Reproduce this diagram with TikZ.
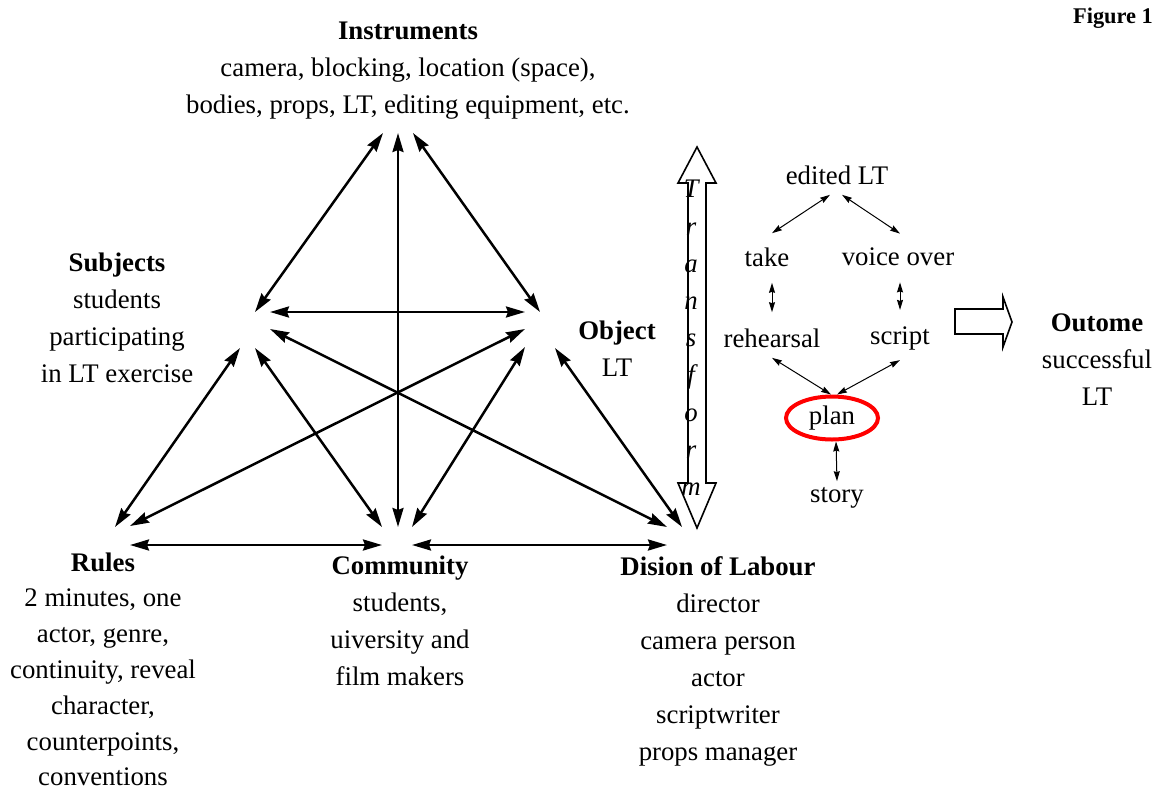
\documentclass[tikz,border=0pt]{standalone}
\usepackage{fontspec}
\setmainfont{Liberation Serif}
\usetikzlibrary{arrows.meta,shapes.geometric}

\begin{document}
\begin{tikzpicture}[x=0.5pt,y=-0.5pt,
  every node/.style={font=\fontsize{13.4}{18.5}\selectfont, align=center, inner sep=0pt},
  block/.style={anchor=north},
  link/.style={black, line width=1.25pt, >={Stealth[length=9.5pt,width=5.5pt,inset=1pt]}, <->},
  flow/.style={black, line width=0.5pt, >={Stealth[length=5pt,width=3pt,inset=0.5pt]}, <->},
  hollow/.style={black, line width=0.8pt, line join=miter, fill=white}]
\useasboundingbox (0,0) rectangle (1161,793);

\node[font=\fontsize{11.2}{13}\selectfont\bfseries] (fig) at (1113,18) {Figure 1};

\node[block] (instruments) at (408,22) {\textbf{Instruments}\\camera, blocking, location (space),\\bodies, props, LT, editing equipment, etc.};
\node[block] (subjects) at (117,252) {\textbf{Subjects}\\students\\participating\\in LT exercise};
\node[block] (object) at (617,320) {\textbf{Object}\\LT};
\node[block, font=\fontsize{13.4}{17.9}\selectfont] (rules) at (103,552) {\textbf{Rules}\\2 minutes, one\\actor, genre,\\continuity, reveal\\character,\\counterpoints,\\conventions};
\node[block] (community) at (400,555) {\textbf{Community}\\students,\\uiversity and\\film makers};
\node[block] (labour) at (718,556) {\textbf{Dision of Labour}\\director\\camera person\\actor\\scriptwriter\\props manager};

\coordinate (instr) at (398,133);
\coordinate (subj) at (255,330);
\coordinate (obj) at (540,330);
\coordinate (rul) at (122,536);
\coordinate (comm) at (397,536);
\coordinate (lab) at (674,536);

\draw[link] ([shift={(-15,0)}]instr) -- ([shift={(0,-18)}]subj);
\draw[link] (instr) -- ([shift={(1,-9)}]comm);
\draw[link] ([shift={(15,0)}]instr) -- ([shift={(0,-18)}]obj);
\draw[link] ([shift={(15,-18)}]subj) -- ([shift={(-15,-18)}]obj);
\draw[link] ([shift={(-15,18)}]subj) -- ([shift={(-7,-9)}]rul);
\draw[link] ([shift={(0,18)}]subj) -- ([shift={(-15,-9)}]comm);
\draw[link] ([shift={(15,-1)}]subj) -- ([shift={(-7,-9)}]lab);
\draw[link] ([shift={(-15,-1)}]obj) -- ([shift={(8,-10)}]rul);
\draw[link] ([shift={(-15,17)}]obj) -- ([shift={(15,-9)}]comm);
\draw[link] ([shift={(15,18)}]obj) -- ([shift={(8,-9)}]lab);
\draw[link] ([shift={(8,9)}]rul) -- ([shift={(-15,9)}]comm);
\draw[link] ([shift={(15,9)}]comm) -- ([shift={(-7,9)}]lab);

\draw[hollow] (697,147) -- (716,183) -- (706,183) -- (706,483) -- (716,483) -- (697,528)
  -- (678,483) -- (688,483) -- (688,183) -- (678,183) -- cycle;
\node[anchor=north, font=\fontsize{13.4}{18.6}\selectfont\itshape] (transform) at (691,180) {T\\r\\a\\n\\s\\f\\o\\r\\m};

\node (edited) at (837,175) {edited LT};
\node (take) at (767,257) {take};
\node (voice) at (898,257) {voice over};
\node (rehearsal) at (772,338) {rehearsal};
\node (script) at (900,338) {script};
\node[ellipse, draw=red, line width=2pt, minimum width=46pt, minimum height=21.5pt] (plan) at (832,418) {plan};
\node (story) at (837,498) {story};

\draw[flow] ([xshift=-3.5pt,yshift=-5pt]edited.south) -- ([xshift=2.5pt,yshift=7pt]take.north);
\draw[flow] ([xshift=2.5pt,yshift=-5pt]edited.south) -- ([xshift=1pt,yshift=7pt]voice.north);
\draw[flow] ([xshift=2.5pt,yshift=-8pt]take.south) -- ([yshift=8pt]rehearsal.north);
\draw[flow] ([xshift=1pt,yshift=-8pt]voice.south) -- ([yshift=8pt]script.north);
\draw[flow] ([yshift=-5pt]rehearsal.south) -- ([xshift=-0.5pt]plan.north);
\draw[flow] ([yshift=-5pt]script.south) -- ([xshift=2.5pt]plan.north);
\draw[flow] ([xshift=2pt]plan.south) -- ([yshift=3pt]story.north);

\draw[hollow] (955,309) -- (1003,309) -- (1003,297) -- (1012,322) -- (1003,347) -- (1003,334) -- (955,334) -- cycle;
\node[block] (outcome) at (1097,313) {\textbf{Outome}\\successful\\LT};
\end{tikzpicture}
\end{document}
